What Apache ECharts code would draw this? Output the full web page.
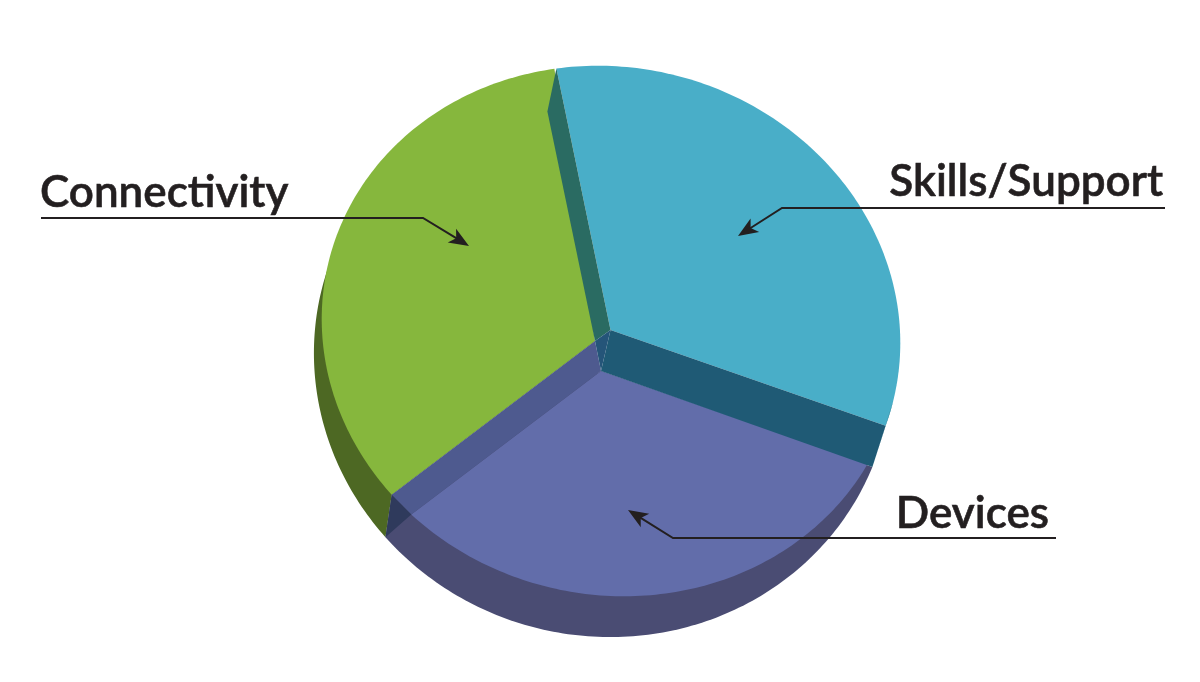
<!DOCTYPE html>
<html>
<head>
<meta charset="utf-8">
<style>html,body{margin:0;padding:0;background:#fff}#c{width:1200px;height:682px}</style>
<script src="https://cdn.jsdelivr.net/npm/echarts@6/dist/echarts.min.js"></script>
</head>
<body>
<div id="c"></div>
<script>
// ---- data ----
const categories = ['Skills/Support', 'Devices', 'Connectivity'];
const shares = [35.2, 30.6, 34.2];

// ---- drawing parameters ----
const startAngle = -10.8;
const gapsAfter = [8.8, 5.9, 0.4];          // separation between exploded slices, degrees
const topRim = {cx: 611, cy: 331, rx: 289, ry: 265, k: -0.09};
const underRim = {cx: 603, cy: 360, rx: 289, ry: 277, k: -0.05};
const underShift = [1.9, -1.2];             // where the under rim meets the slice corners, degrees
const depth = [-9, 43];
const apex = [[610.5, 330], [601, 371], [595, 341]];
const faceColors = ['#49aec8', '#626daa', '#86b73d'];
const underColors = [null, '#4a4c73', '#4d6823'];
const greenUnderEnd = 300;
const ink = '#231f20';
const labelFont = '600 44px Lato, sans-serif';
const labels = [
  {x: 1163, y: 160, align: 'right'},
  {x: 1049, y: 492, align: 'right'},
  {x: 40, y: 171, align: 'left'}
];
const leaders = [
  [[1165, 208], [782, 208], [738, 236]],
  [[1056, 538], [673, 538], [628, 510]],
  [[41, 218], [423, 218], [469, 246]]
];

function rimPoint(e, deg) {
  const a = deg * Math.PI / 180, s = Math.sin(a), c = Math.cos(a);
  const r = 1 / Math.sqrt(1 - e.k * s * c);
  return [e.cx + e.rx * r * s, e.cy - e.ry * r * c];
}
function arc(e, from, to) {
  const pts = [], n = Math.ceil(Math.abs(to - from));
  for (let i = 0; i <= n; i++) pts.push(rimPoint(e, from + (to - from) * i / n));
  return pts;
}
const total = shares.reduce((a, b) => a + b, 0);
const gapTotal = gapsAfter.reduce((a, b) => a + b, 0);
const perUnit = (360 - gapTotal) / total;
const spans = [];
let cursor = startAngle;
shares.forEach((v, i) => {
  spans.push([cursor, cursor + v * perUnit]);
  cursor += v * perUnit + gapsAfter[i];
});
const underRight = spans[0][1] + underShift[0];
const underLeft = spans[2][0] + underShift[1];

const poly = (points, fill) => ({type: 'polygon', shape: {points}, style: {fill}, silent: true});

function renderUnder(p, api) {
  const i = api.value(0);
  if (!underColors[i]) return {type: 'group', children: []};
  const corner = rimPoint(topRim, spans[2][0]);
  if (i === 1) return poly([apex[1]].concat(arc(underRim, underRight, underLeft), [corner]), underColors[1]);
  return poly([corner].concat(arc(underRim, underLeft, greenUnderEnd), [apex[2]]), underColors[2]);
}
function renderFace(p, api) {
  const i = api.value(0);
  return poly([apex[i]].concat(arc(topRim, spans[i][0], spans[i][1])), faceColors[i]);
}
function renderWalls(p, api) {
  const i = api.value(0);
  if (i === 0) {
    const end = rimPoint(topRim, spans[0][1]);
    const endUnder = rimPoint(underRim, underRight);
    const start = rimPoint(topRim, spans[0][0]);
    const startDeep = [start[0] + depth[0], start[1] + depth[1]];
    return {type: 'group', children: [
      poly(arc(topRim, spans[0][1] - 5.5, spans[0][1]).concat([endUnder]), '#3d8a9c'),
      poly([apex[0], end, endUnder, apex[1]], '#1f5a75'),
      poly([start, startDeep, apex[2], apex[0]], '#2a6b62')
    ]};
  }
  if (i === 2) {
    const corner = rimPoint(topRim, spans[2][0]);
    const purpleCorner = rimPoint(topRim, spans[1][1]);
    const deep = rimPoint(underRim, underLeft);
    return {type: 'group', children: [
      poly([apex[2], corner, purpleCorner, apex[1]], '#4e5a8f'),
      poly([corner, purpleCorner, deep], '#2f3a5c'),
      poly([apex[2], apex[0], apex[1]], '#255579')
    ]};
  }
  return {type: 'group', children: []};
}
function renderLabel(p, api) {
  const i = api.value(0), pts = leaders[i], l = labels[i];
  const tip = pts[2], knee = pts[1];
  const dx = tip[0] - knee[0], dy = tip[1] - knee[1], len = Math.hypot(dx, dy);
  const ux = dx / len, uy = dy / len, nx = -uy, ny = ux;
  const head = [
    tip,
    [tip[0] - ux * 20 + nx * 8, tip[1] - uy * 20 + ny * 8],
    [tip[0] - ux * 15, tip[1] - uy * 15],
    [tip[0] - ux * 20 - nx * 8, tip[1] - uy * 20 - ny * 8]
  ];
  const lineEnd = [tip[0] - ux * 14, tip[1] - uy * 14];
  return {type: 'group', children: [
    {type: 'polyline', shape: {points: [pts[0], pts[1], lineEnd]},
      style: {stroke: ink, lineWidth: 2, fill: 'none'}, silent: true},
    poly(head, ink),
    {type: 'text', style: {text: categories[i], x: l.x, y: l.y, align: l.align,
      verticalAlign: 'top', font: labelFont, fill: ink, stroke: ink, lineWidth: 0.6}, silent: true}
  ]};
}

const rows = categories.map((c, i) => [i, shares[i]]);
const layer = (renderItem, z) => ({type: 'custom', coordinateSystem: 'none', renderItem, data: rows, z, silent: true});

const chart = echarts.init(document.getElementById('c'), null, {renderer: 'canvas'});
chart.setOption({
  backgroundColor: '#ffffff',
  animation: false,
  tooltip: {show: false},
  series: [layer(renderUnder, 1), layer(renderFace, 2), layer(renderWalls, 3), layer(renderLabel, 4)]
});
</script>
</body>
</html>
